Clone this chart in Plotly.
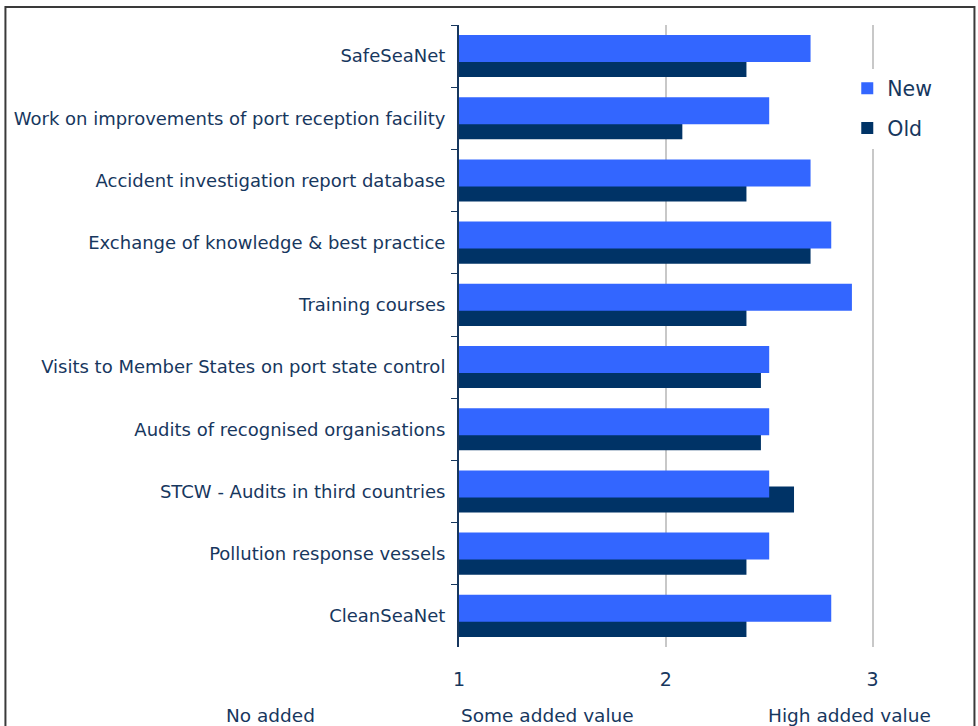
import plotly.graph_objects as go

categories = [
    "SafeSeaNet",
    "Work on improvements of port reception facility",
    "Accident investigation report database",
    "Exchange of knowledge & best practice",
    "Training courses",
    "Visits to Member States on port state control",
    "Audits of recognised organisations",
    "STCW - Audits in third countries",
    "Pollution response vessels",
    "CleanSeaNet",
]
new_values = [2.70, 2.50, 2.70, 2.80, 2.90, 2.50, 2.50, 2.50, 2.50, 2.80]
old_values = [2.39, 2.08, 2.39, 2.70, 2.39, 2.46, 2.46, 2.62, 2.39, 2.39]
x_ticks = [1, 2, 3]
scale_labels = ["No added<br>value", "Some added value", "High added value"]
scale_label_x = [-0.365, 0.1705, 0.7546]

navy = "#17375E"
font_family = "DejaVu Sans"

fig = go.Figure()
fig.add_trace(go.Bar(
    y=categories, x=[v - 1 for v in old_values], base=1, orientation="h",
    name="Old", marker=dict(color="#003366", line=dict(width=0)),
    offset=-0.082, width=0.42, legendrank=2, legendgroup="old",
))
fig.add_trace(go.Bar(
    y=categories, x=[v - 1 for v in new_values], base=1, orientation="h",
    name="New", marker=dict(color="#3366FF", line=dict(width=0)),
    offset=-0.339, width=0.434, legendrank=1, legendgroup="new",
))

for txt, xv in zip(scale_labels, scale_label_x):
    fig.add_annotation(
        x=xv, xref="paper", y=-0.090, yref="paper", yanchor="top", xanchor="center",
        text=txt, showarrow=False, align="center",
        font=dict(family=font_family, size=18.5, color=navy),
    )

fig.add_shape(
    type="rect", xref="paper", yref="paper",
    x0=-0.8773, x1=0.997, y0=-0.2, y1=1.0289,
    line=dict(color="#3a3a3a", width=2), fillcolor="rgba(0,0,0,0)", layer="above",
)

fig.update_layout(
    width=978, height=726,
    margin=dict(l=459, r=1.5, t=25, b=79),
    barmode="overlay",
    plot_bgcolor="white", paper_bgcolor="white",
    font=dict(family=font_family, color=navy),
    showlegend=True,
    legend=dict(
        x=0.751, y=0.93, xanchor="left", yanchor="top",
        bgcolor="white", font=dict(family=font_family, size=20.5, color=navy),
        tracegroupgap=10,
    ),
    xaxis=dict(
        range=[1, 3.5], tickvals=x_ticks, ticktext=[str(t) for t in x_ticks],
        showgrid=True, gridcolor="#C8C8C8", gridwidth=2,
        zeroline=False, showline=False, ticks="",
        tickfont=dict(family=font_family, size=19, color=navy),
        ticklabelstandoff=19,
    ),
    yaxis=dict(
        categoryorder="array", categoryarray=categories, autorange="reversed",
        showgrid=False, zeroline=False,
        showline=True, linecolor=navy, linewidth=2,
        ticks="outside", tickson="boundaries", ticklen=6, tickcolor=navy, tickwidth=1,
        tickfont=dict(family=font_family, size=18, color=navy),
        ticklabelstandoff=8,
    ),
)

fig.write_html("out.html")
